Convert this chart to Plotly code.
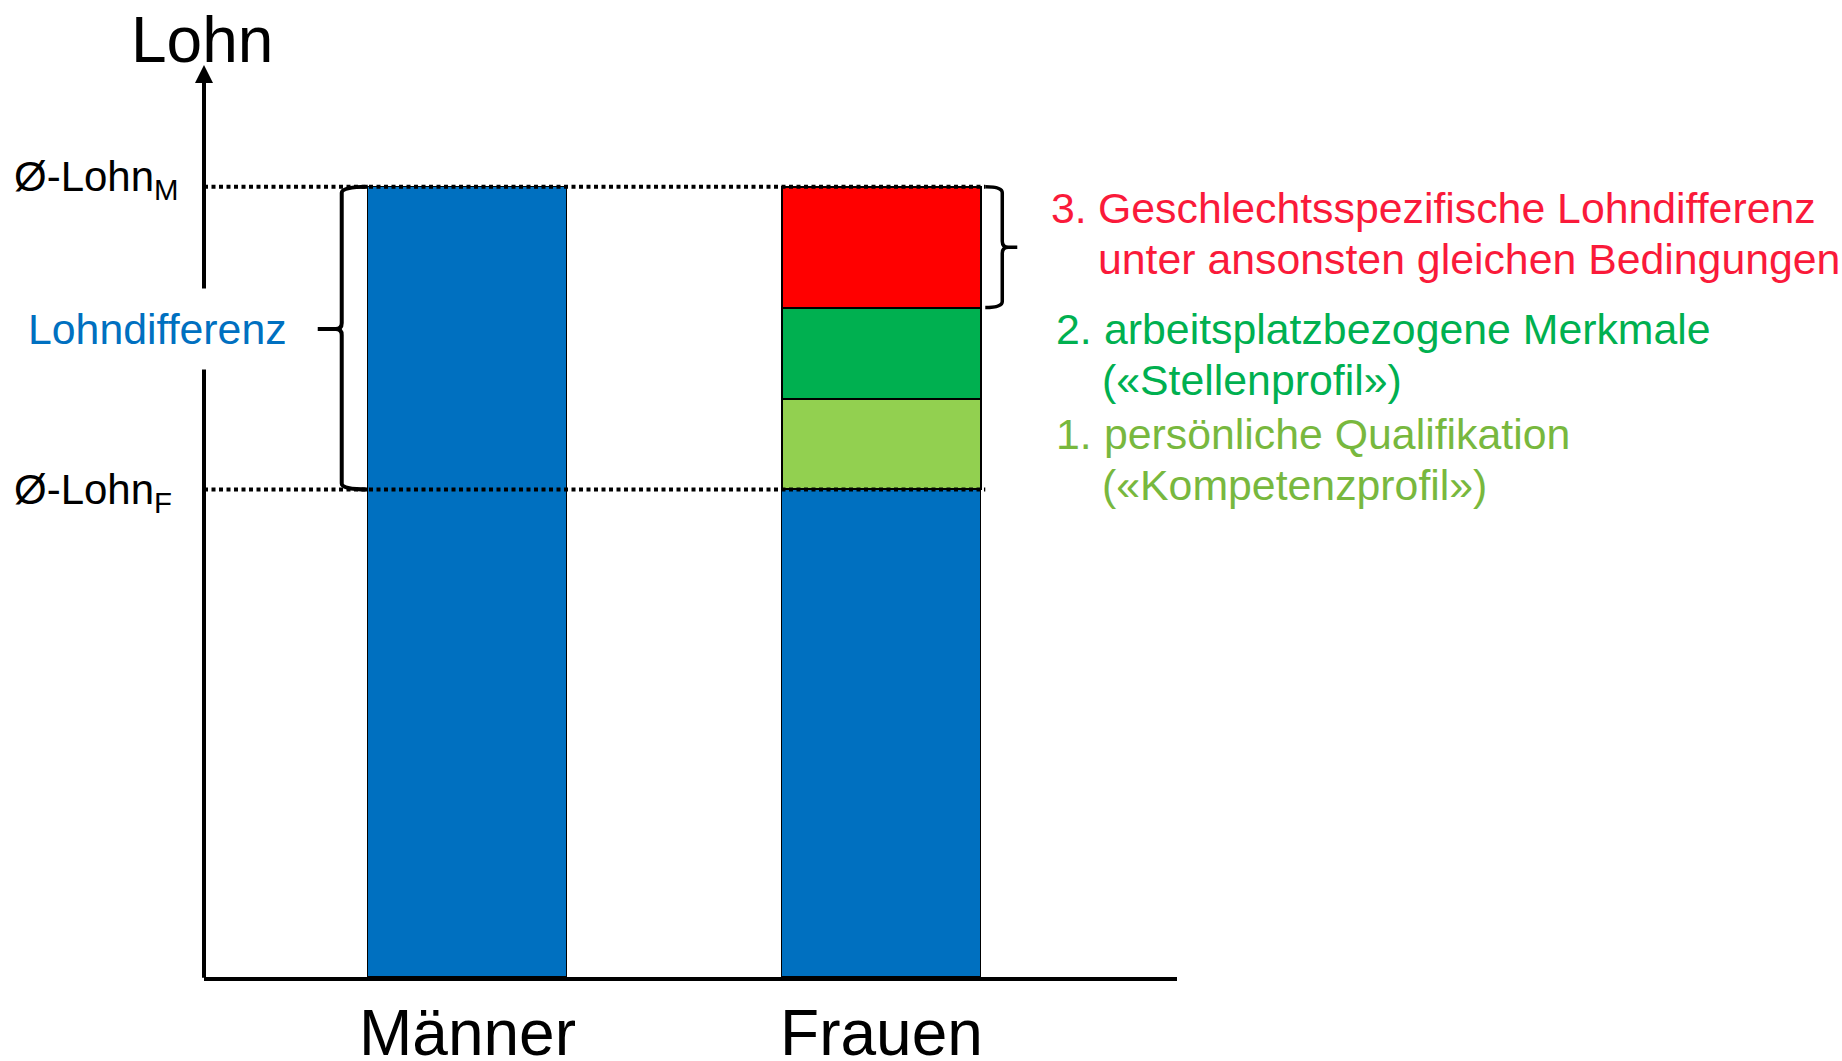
import plotly.graph_objects as go

# --- data -------------------------------------------------------------------
kategorien = ["Männer", "Frauen"]
durchschnittslohn = [100.0, 61.7]          # Ø-Lohn Männer, Ø-Lohn Frauen
# components of the wage gap, stacked on top of the women's bar (bottom -> top)
komponenten_werte = [11.5, 11.5, 15.3]
komponenten_namen = [
    "persönliche Qualifikation",
    "arbeitsplatzbezogene Merkmale",
    "Geschlechtsspezifische Lohndifferenz",
]

# --- styling ----------------------------------------------------------------
BLAU = "#0070C0"
FARBEN = ["#92D050", "#00B050", "#FF0000"]
TEXT_FARBEN = ["#78B83E", "#00B050", "#FA1A3A"]
FONT = "Liberation Sans, Arial, sans-serif"
FS = 42.8

W, H = 1842, 1061
M_L, M_R, M_T, M_B = 204, 665, 65, 84
PW, PH = W - M_L - M_R, H - M_T - M_B
X_RANGE = [-0.6365, 1.7138]
Y_RANGE = [0, 115.4]
BAR_W = 0.482

ux = PW / (X_RANGE[1] - X_RANGE[0])   # pixels per x unit
uy = PH / (Y_RANGE[1] - Y_RANGE[0])   # pixels per y unit


def px_x(p):
    """page pixel column -> paper x"""
    return (p - M_L) / PW


def px_y(p):
    """page pixel row -> paper y"""
    return (M_T + PH - p) / PH


fig = go.Figure()

# base wages (men full bar, women base)
fig.add_bar(
    x=list(range(len(kategorien))), y=durchschnittslohn, width=BAR_W,
    marker=dict(color=BLAU, line=dict(color="black", width=1.5)),
    name="Lohn", hoverinfo="skip",
)
# gap components on top of the women's bar
for wert, farbe, name in zip(komponenten_werte, FARBEN, komponenten_namen):
    fig.add_bar(
        x=[1], y=[wert], width=BAR_W,
        marker=dict(color=farbe, line=dict(color="black", width=2)),
        name=name, hoverinfo="skip",
    )

shapes = []
# dotted reference lines at the two average wages
x_end = 1 + BAR_W / 2 + 4 / ux
for level in durchschnittslohn:
    shapes.append(dict(
        type="line", xref="x", yref="y", x0=X_RANGE[0], x1=x_end, y0=level, y1=level,
        line=dict(color="black", width=4, dash="4px,3.5px"), layer="above",
    ))


def klammer(xv, xe, xt, yt, yb, ym, r_px=6):
    """curly brace: vertical at xv, ends bending to xe, tip pointing to xt"""
    s = 1 if xe > xv else -1
    rx, ry = r_px / ux, r_px / uy
    return (
        f"M {xe},{yt} Q {xv},{yt} {xv},{yt - ry} "
        f"L {xv},{ym + ry} Q {xv},{ym} {xv - s * rx},{ym} L {xt},{ym} "
        f"L {xv - s * rx},{ym} Q {xv},{ym} {xv},{ym - ry} "
        f"L {xv},{yb + ry} Q {xv},{yb} {xe},{yb}"
    )


# brace spanning the total wage gap (left of men's bar)
links = 0 - BAR_W / 2
y_top, y_bot = durchschnittslohn[0], durchschnittslohn[1]
shapes.append(dict(
    type="path", xref="x", yref="y",
    path=klammer(links - 26 / ux, links, links - 50 / ux,
                 y_top, y_bot, y_bot + 0.53 * (y_top - y_bot)),
    line=dict(color="black", width=4), layer="above",
))
# brace spanning the unexplained (gender-specific) part
rechts = 1 + BAR_W / 2
rot_unten = durchschnittslohn[1] + sum(komponenten_werte[:2])
rot_oben = rot_unten + komponenten_werte[2]
shapes.append(dict(
    type="path", xref="x", yref="y",
    path=klammer(rechts + 21 / ux, rechts + 4 / ux, rechts + 36 / ux,
                 rot_oben, rot_unten, (rot_oben + rot_unten) / 2),
    line=dict(color="black", width=3.5), layer="above",
))

annotations = []
# vertical axis with arrow head
annotations.append(dict(
    x=X_RANGE[0], y=Y_RANGE[1], xref="x", yref="y",
    ax=X_RANGE[0], ay=Y_RANGE[0] - 0.3, axref="x", ayref="y",
    showarrow=True, arrowhead=2, arrowwidth=4, arrowsize=0.9,
    arrowcolor="black", text="",
))


def txt(text, x, y, size=FS, color="black", xanchor="left", **kw):
    annotations.append(dict(
        text=text, x=px_x(x), y=px_y(y), xref="paper", yref="paper",
        xanchor=xanchor, yanchor="middle", showarrow=False,
        font=dict(family=FONT, size=size, color=color), **kw,
    ))


txt("Lohn", 202, 39.5, size=64, xanchor="center")
txt("Ø-Lohn<sub>M</sub>", 12, 179, size=42)
txt("Ø-Lohn<sub>F</sub>", 12, 492, size=42)
txt("Lohndifferenz", 157, 328.7, color=BLAU, xanchor="center",
    bgcolor="white", borderpad=16)

# numbered explanations to the right of the women's bar
rot, gruen, hellgruen = TEXT_FARBEN[2], TEXT_FARBEN[1], TEXT_FARBEN[0]
txt("3.", 1049, 207.5, color=rot)
txt("Geschlechtsspezifische Lohndifferenz", 1096, 207.5, color=rot)
txt("unter ansonsten gleichen Bedingungen", 1096, 258.5, color=rot)
txt("2.", 1054, 328.5, color=gruen)
txt("arbeitsplatzbezogene Merkmale", 1102, 328.5, color=gruen)
txt("(«Stellenprofil»)", 1100, 379.5, color=gruen)
txt("1.", 1054, 433.5, color=hellgruen)
txt("persönliche Qualifikation", 1102, 433.5, color=hellgruen)
txt("(«Kompetenzprofil»)", 1100, 484.5, color=hellgruen)

fig.update_layout(
    width=W, height=H,
    margin=dict(l=M_L, r=M_R, t=M_T, b=M_B, pad=0, autoexpand=False),
    paper_bgcolor="white", plot_bgcolor="white",
    barmode="stack", bargap=0, showlegend=False,
    shapes=shapes, annotations=annotations,
    font=dict(family=FONT, color="black"),
    xaxis=dict(
        range=X_RANGE, tickvals=list(range(len(kategorien))), ticktext=kategorien,
        tickfont=dict(size=64, family=FONT, color="black"),
        ticks="", showgrid=False, zeroline=False, automargin=False,
        showline=True, linecolor="black", linewidth=4,
        ticklabelstandoff=-3, fixedrange=True,
    ),
    yaxis=dict(
        range=Y_RANGE, showticklabels=False, ticks="", showgrid=False,
        zeroline=False, showline=False, fixedrange=True, automargin=False,
    ),
)

fig.write_html("out.html", config=dict(displayModeBar=False))
